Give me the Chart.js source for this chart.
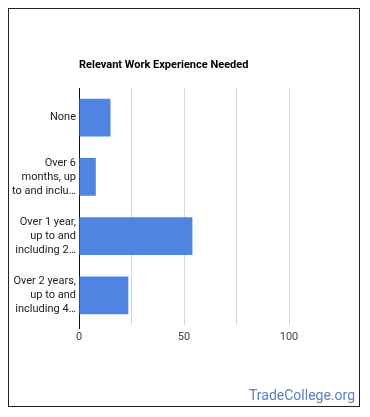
<!DOCTYPE html>
<html>
<head>
<meta charset="utf-8">
<script src="https://cdn.jsdelivr.net/npm/chart.js@4/dist/chart.umd.min.js"></script>
<style>
    html, body { margin: 0; padding: 0; background: #fff; }
    #wrap { position: relative; width: 370px; height: 417px; }
    #frame { position: absolute; left: 8px; top: 8px; width: 350px; height: 397px; border: 1px solid #222; }
    canvas { position: absolute; left: 0; top: 0; }
</style>
</head>
<body>
<div id="wrap">
    <div id="frame"></div>
    <canvas id="chart" width="370" height="417"></canvas>
</div>
<script>
// Chart data
const chartTitle = 'Relevant Work Experience Needed';
const categories = [
    ['None'],
    ['Over 6', 'months, up', 'to and inclu…'],
    ['Over 1 year,', 'up to and', 'including 2…'],
    ['Over 2 years,', 'up to and', 'including 4…']
];
const values = [15, 8, 54, 23.5];
const tickLabels = [0, 50, 100];
const watermark = 'TradeCollege.org';

// Title and watermark drawn on the canvas
const extrasPlugin = {
    id: 'extras',
    afterDraw(chart) {
        const ctx = chart.ctx;
        ctx.save();
        ctx.fillStyle = '#000';
        ctx.font = 'bold 11px Roboto';
        ctx.textBaseline = 'alphabetic';
        ctx.textAlign = 'left';
        ctx.fillText(chartTitle, chart.chartArea.left, 68);
        ctx.fillStyle = '#5b7ec9';
        ctx.font = '14px Roboto';
        ctx.textAlign = 'right';
        ctx.fillText(watermark, 355, 400);
        ctx.restore();
    }
};

new Chart(document.getElementById('chart'), {
    type: 'bar',
    data: {
        labels: categories,
        datasets: [{
            data: values,
            backgroundColor: '#5083e2',
            borderWidth: 0,
            categoryPercentage: 0.64,
            barPercentage: 1
        }]
    },
    options: {
        indexAxis: 'y',
        responsive: false,
        animation: false,
        layout: { padding: { top: 88, right: 28.5, bottom: 72, left: 0 } },
        plugins: {
            legend: { display: false },
            tooltip: { enabled: false }
        },
        scales: {
            x: {
                min: 0,
                max: 125,
                ticks: {
                    stepSize: 25,
                    padding: 2,
                    color: '#444',
                    font: { family: 'Roboto', size: 11 },
                    callback: v => tickLabels.includes(v) ? v : ''
                },
                grid: {
                    drawTicks: true,
                    tickLength: 4,
                    color: ctx => ctx.tick && ctx.tick.value === 125 ? 'rgba(0,0,0,0)' : '#d6d6d6',
                    tickColor: ctx => ctx.tick && ctx.tick.value === 0 ? '#111' : 'rgba(0,0,0,0)'
                },
                border: { display: false },
                afterFit: scale => { scale.height = 20; }
            },
            y: {
                ticks: {
                    padding: 3,
                    color: '#222',
                    font: { family: 'Roboto', size: 11, lineHeight: 1.27 }
                },
                grid: { display: false, drawTicks: false },
                border: { display: true, color: '#111', width: 1 },
                afterFit: scale => { scale.width = 79; }
            }
        }
    },
    plugins: [extrasPlugin]
});
</script>
</body>
</html>
